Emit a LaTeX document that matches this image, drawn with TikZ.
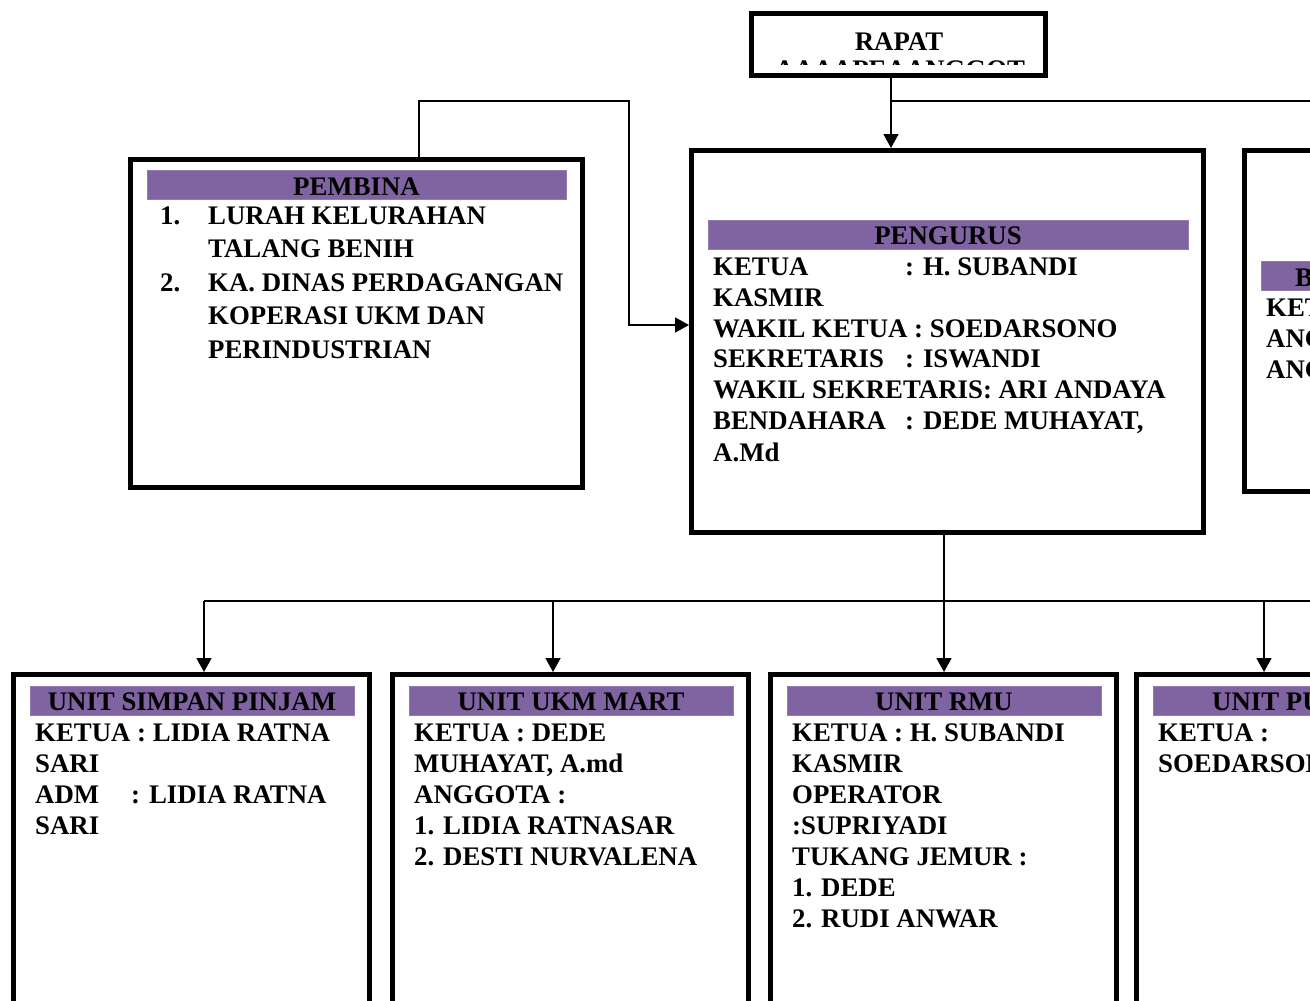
\documentclass[tikz,border=0pt]{standalone}
\usepackage{fontspec}
\setmainfont{Liberation Serif}
\usetikzlibrary{arrows.meta}
\definecolor{hdrpurple}{RGB}{128,100,162}
\tikzset{
  box/.style={draw, line width=5pt, inner sep=0pt, minimum width=#1},
  hdr/.style={fill=hdrpurple, draw=hdrpurple!85!white, line width=0.8pt, inner sep=0pt, minimum height=29pt},
  txt/.style={anchor=base west, inner sep=0pt, font=\bfseries\fontsize{26.8}{31}\selectfont},
  htxt/.style={anchor=base, inner sep=0pt, font=\bfseries\fontsize{26.8}{31}\selectfont},
  conn/.style={line width=1.6pt},
  arr/.style={conn, -{Triangle[length=14pt,width=15pt]}}
}
\begin{document}
\begin{tikzpicture}[x=1pt,y=-1pt]
\useasboundingbox (0,0) rectangle (1310,1001);
\clip (0,0) rectangle (1310,1001);
% ---------- boxes
\node[box=294pt, minimum height=62pt] (rapat) at (898.5,44.5) {};
\node[box=452pt, minimum height=328pt] (pembina) at (356.5,323.5) {};
\node[box=512pt, minimum height=382pt] (pengurus) at (947.5,341.5) {};
\node[box=355pt, minimum height=341pt] (pengawas) at (1422,321) {};
\node[box=356pt, minimum height=425pt] (u1) at (191.5,887) {};
\node[box=356pt, minimum height=425pt] (u2) at (570.5,887) {};
\node[box=346pt, minimum height=425pt] (u3) at (943.5,887) {};
\node[box=463pt, minimum height=425pt] (u4) at (1368,887) {};
% ---------- RAPAT
\node[htxt] (rapatT) at (899,50) {RAPAT};
\begin{scope}
\clip (760,15) rectangle (1040,64.5);
\node[htxt] (rapatT2) at (900,78) {AAAAPEAANGGOT};
\end{scope}
% ---------- PEMBINA
\node[hdr, minimum width=419pt] (pembinaH) at (356.5,184.5) {};
\node[htxt] (pembinaT) at (356.5,195) {PEMBINA};
\node[txt] (pb1n) at (160,224) {1.};
\node[txt] (pb1a) at (208,224) {LURAH KELURAHAN};
\node[txt] (pb1b) at (208,257) {TALANG BENIH};
\node[txt] (pb2n) at (160,291) {2.};
\node[txt] (pb2a) at (208,291) {KA. DINAS PERDAGANGAN};
\node[txt] (pb2b) at (208,324) {KOPERASI UKM DAN};
\node[txt] (pb2c) at (208,358) {PERINDUSTRIAN};
% ---------- PENGURUS
\node[hdr, minimum width=480pt] (pengurusH) at (948,234.5) {};
\node[htxt] (pengurusT) at (948,244) {PENGURUS};
\node[txt] (pg1) at (713,275) {KETUA};
\node[txt] (pg1b) at (905,275) {: H. SUBANDI};
\node[txt] (pg2) at (713,306) {KASMIR};
\node[txt] (pg3) at (713,337) {WAKIL KETUA : SOEDARSONO};
\node[txt] (pg4) at (713,367) {SEKRETARIS};
\node[txt] (pg4b) at (905,367) {: ISWANDI};
\node[txt] (pg5) at (713,398) {WAKIL SEKRETARIS: ARI ANDAYA};
\node[txt] (pg6) at (713,429) {BENDAHARA};
\node[txt] (pg6b) at (905,429) {: DEDE MUHAYAT,};
\node[txt] (pg7) at (713,461) {A.Md};
% ---------- right partial box
\node[hdr, minimum width=339pt, anchor=west] (pengawasH) at (1261,275.5) {};
\node[txt] (pengawasT) at (1295,286) {BADAN PENGAWAS};
\node[txt] (pw1) at (1266,316) {KETUA};
\node[txt] (pw2) at (1266,347) {ANGGOTA};
\node[txt] (pw3) at (1266,378) {ANGGOTA};
% ---------- unit boxes headers
\node[hdr, minimum width=324pt] (u1H) at (192,700.5) {};
\node[htxt] (u1T) at (192,710) {UNIT SIMPAN PINJAM};
\node[hdr, minimum width=324pt] (u2H) at (571,700.5) {};
\node[htxt] (u2T) at (571,710) {UNIT UKM MART};
\node[hdr, minimum width=314pt] (u3H) at (944,700.5) {};
\node[htxt] (u3T) at (944,710) {UNIT RMU};
\node[hdr, minimum width=447pt, anchor=west] (u4H) at (1153,700.5) {};
\node[txt] (u4T) at (1212,710) {UNIT PUPUK};
% unit 1
\node[txt] (a1) at (35,741) {KETUA : LIDIA RATNA};
\node[txt] (a2) at (35,772) {SARI};
\node[txt] (a3) at (35,803) {ADM};
\node[txt] (a3b) at (131,803) {: LIDIA RATNA};
\node[txt] (a4) at (35,834) {SARI};
% unit 2
\node[txt] (b1) at (414,741) {KETUA : DEDE};
\node[txt] (b2) at (414,772) {MUHAYAT, A.md};
\node[txt] (b3) at (414,803) {ANGGOTA :};
\node[txt] (b4) at (414,834) {1. LIDIA RATNASAR};
\node[txt] (b5) at (414,865) {2. DESTI NURVALENA};
% unit 3
\node[txt] (c1) at (792,741) {KETUA : H. SUBANDI};
\node[txt] (c2) at (792,772) {KASMIR};
\node[txt] (c3) at (792,803) {OPERATOR};
\node[txt] (c4) at (792,834) {:SUPRIYADI};
\node[txt] (c5) at (792,865) {TUKANG JEMUR :};
\node[txt] (c6) at (792,896) {1. DEDE};
\node[txt] (c7) at (792,927) {2. RUDI ANWAR};
% unit 4
\node[txt] (d1) at (1158,741) {KETUA :};
\node[txt] (d2) at (1158,772) {SOEDARSONO};
% ---------- connectors
\coordinate (j1) at (891,101);
\coordinate (offR) at (1320,101);
\draw[arr] ([xshift=-7.5pt]rapat.south) -- ([xshift=-7.5pt]rapat.south |- pengurus.north);
\draw[conn] (j1) -- (offR);
\coordinate (k1) at (629,101);
\coordinate (k2) at (629,325);
\draw[arr] ([xshift=62.5pt]pembina.north) |- (k1) -- (k2) -- (k2 -| pengurus.west);
\coordinate (b0) at (944,601);
\coordinate (bL) at (204,601);
\coordinate (bM) at (553,601);
\coordinate (bR4) at (1264,601);
\coordinate (bR) at (1320,601);
\draw[conn] ([xshift=-3.5pt]pengurus.south) -- (b0);
\draw[conn] (bL) -- (bR);
\draw[arr] (bL) -- (bL |- u1.north);
\draw[arr] (bM) -- (bM |- u2.north);
\draw[arr] (b0) -- (b0 |- u3.north);
\draw[arr] (bR4) -- (bR4 |- u4.north);
\end{tikzpicture}
\end{document}
